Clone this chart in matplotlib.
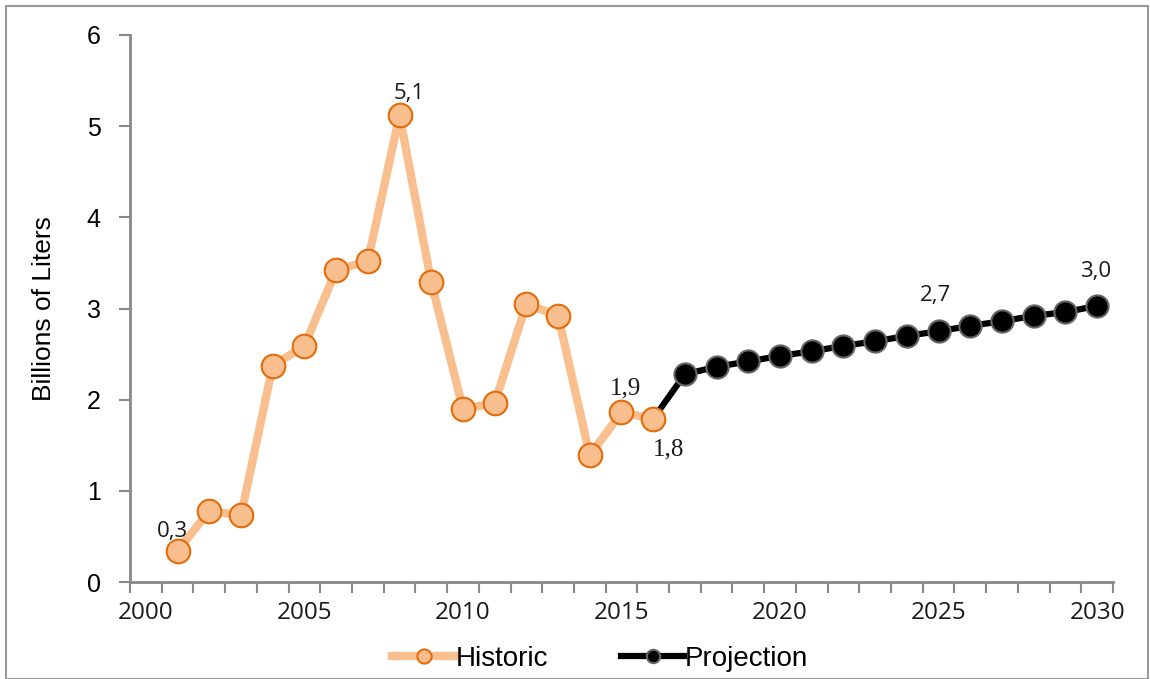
import matplotlib
matplotlib.use("Agg")
import matplotlib.pyplot as plt
from matplotlib.patches import Rectangle
import numpy as np

hist_years = list(range(2001, 2017))
hist_vals = [0.34, 0.78, 0.73, 2.37, 2.59, 3.42, 3.52, 5.12, 3.29, 1.90, 1.96,
             3.05, 2.92, 1.39, 1.86, 1.79]
proj_years = list(range(2016, 2031))
proj_vals = [1.79, 2.28, 2.36, 2.42, 2.48, 2.53, 2.59, 2.64, 2.70, 2.75, 2.81,
             2.86, 2.92, 2.96, 3.03]
x_labels = [2000, 2005, 2010, 2015, 2020, 2025, 2030]
y_ticks = [0, 1, 2, 3, 4, 5, 6]
labels_hist = {2001: "0,3", 2008: "5,1", 2015: "1,9", 2016: "1,8"}
labels_proj = {2025: "2,7", 2030: "3,0"}

W, H = 1150, 679
fig = plt.figure(figsize=(W / 100, H / 100), dpi=100)
ax = fig.add_axes([130 / W, 1 - 582 / H, (1113 - 130) / W, (582 - 35) / H])

orange_line = "#F9BF8F"
orange_face = "#F9BE8E"
orange_edge = "#E46C0A"
gray = "#888888"

ax.plot(hist_years, hist_vals, color=orange_line, lw=6, marker="o", ms=17,
        mfc=orange_face, mec=orange_edge, mew=1.5, zorder=4, label="Historic")
ax.plot(proj_years, proj_vals, color="black", lw=4.5, marker="o", ms=16,
        mfc="black", mec="#666666", mew=1.5, markevery=list(range(1, len(proj_years))),
        zorder=3, label="Projection")

ax.set_xlim(1999.5, 2030.5)
ax.set_ylim(0, 6)
ax.set_xticks(np.arange(1999.5, 2031, 1), minor=True)
ax.set_xticks(x_labels)
ax.set_xticklabels([str(v) for v in x_labels], fontsize=17.5, fontfamily=["Open Sans"],
                   color="#1a1a1a")
ax.tick_params(axis="x", which="major", length=0, pad=14)
ax.tick_params(axis="x", which="minor", length=8, width=1.5, color=gray, direction="out")
ax.set_yticks(y_ticks)
ax.set_yticklabels([str(v) for v in y_ticks], fontsize=18, fontfamily=["Liberation Sans"])
ax.tick_params(axis="y", length=8, width=1.5, color=gray, pad=13)

for s in ["top", "right"]:
    ax.spines[s].set_visible(False)
for s in ["left", "bottom"]:
    ax.spines[s].set_color(gray)
    ax.spines[s].set_linewidth(2)

ax.set_ylabel("Billions of Liters", fontsize=19, fontfamily=["Liberation Sans"],
              labelpad=22)

def lab(x, y, t, dx, dy, fam, size=16):
    ax.annotate(t, (x, y), xytext=(dx, dy), textcoords="offset points",
                ha="center", va="center", fontsize=size, fontfamily=[fam],
                color="#1a1a1a", zorder=6)

hist_map = dict(zip(hist_years, hist_vals))
proj_map = dict(zip(proj_years, proj_vals))
lab(2001, hist_map[2001], labels_hist[2001], -4, 14, "Open Sans")
lab(2008, hist_map[2008], labels_hist[2008], 7, 16, "Open Sans")
lab(2015, hist_map[2015], labels_hist[2015], 3, 17, "Liberation Serif", 18)
lab(2016, hist_map[2016], labels_hist[2016], 11, -22, "Liberation Serif", 18)
lab(2025, proj_map[2025], labels_proj[2025], -2, 26, "Open Sans")
lab(2030, proj_map[2030], labels_proj[2030], -1, 25, "Open Sans")

ax.legend(loc="center", bbox_to_anchor=(0.478, (582 - 659) / 547), ncol=2, frameon=False,
          prop={"family": "Liberation Sans", "size": 20}, handlelength=2.3,
          handletextpad=0.0, columnspacing=2.6, markerscale=0.6,
          borderpad=0.1)

fig.patches.append(Rectangle((6 / W, 0), (W - 8) / W, 1 - 6 / H,
                             transform=fig.transFigure, fill=False,
                             edgecolor="#9a9a9a", lw=1.5))

fig.savefig("out.png", dpi=100)
